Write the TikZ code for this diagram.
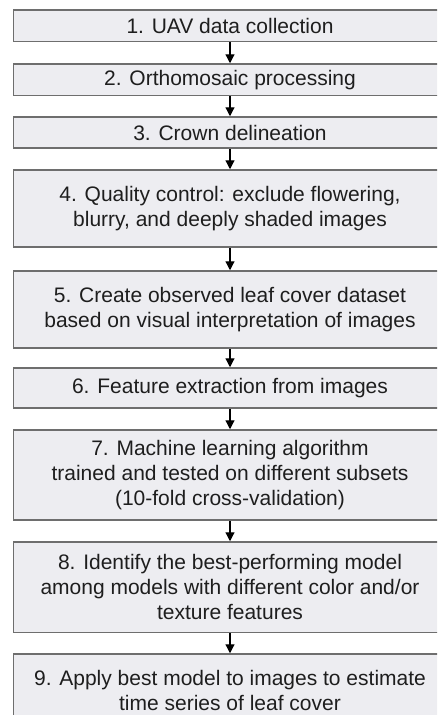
\documentclass[tikz,border=0pt]{standalone}
\usepackage{fontspec}
\setmainfont{Liberation Sans}
\usetikzlibrary{arrows.meta}
\definecolor{boxfill}{HTML}{EDEDF1}
\definecolor{boxline}{HTML}{6E6E6E}
\definecolor{txt}{HTML}{1E1E1E}
\tikzset{
  stepbox/.style={draw=boxline, line width=1.5pt, fill=boxfill, rectangle,
    minimum width=433pt, inner sep=0pt, align=center, text=txt,
    font=\fontsize{21}{25}\selectfont},
  flowarrow/.style={draw=black, line width=1.2pt, -{Triangle[width=9pt,length=9pt]}}
}
\begin{document}
\begin{tikzpicture}[x=1pt,y=-1pt]
\useasboundingbox (0,0) rectangle (437,715);
\clip (0,0) rectangle (437,715);
\node[stepbox, minimum height=31.5pt] (b1) at (230,25.75) {1. UAV data collection};
\node[stepbox, minimum height=31.5pt] (b2) at (230,79.75) {2. Orthomosaic processing};
\node[stepbox, minimum height=31pt] (b3) at (230,132.5) {3. Crown delineation};
\node[stepbox, minimum height=77pt] (b4) at (230,208.5) {4. Quality control: exclude flowering,\\blurry, and deeply shaded images};
\node[stepbox, minimum height=77pt] (b5) at (230,309.5) {5. Create observed leaf cover dataset\\based on visual interpretation of images};
\node[stepbox, minimum height=40pt] (b6) at (230,388) {6. Feature extraction from images};
\node[stepbox, minimum height=90pt] (b7) at (230,475) {7. Machine learning algorithm\\trained and tested on different subsets\\(10-fold cross-validation)};
\node[stepbox, minimum height=90.5pt] (b8) at (230,587.25) {8. Identify the best-performing model\\among models with different color and/or\\texture features};
\node[stepbox, minimum height=72pt] (b9) at (230,690) {9. Apply best model to images to estimate\\time series of leaf cover};
\draw[flowarrow] (b1.south) -- (b2.north);
\draw[flowarrow] (b2.south) -- (b3.north);
\draw[flowarrow] (b3.south) -- (b4.north);
\draw[flowarrow] (b4.south) -- (b5.north);
\draw[flowarrow] (b5.south) -- (b6.north);
\draw[flowarrow] (b6.south) -- (b7.north);
\draw[flowarrow] (b7.south) -- (b8.north);
\draw[flowarrow] (b8.south) -- (b9.north);
\end{tikzpicture}
\end{document}
